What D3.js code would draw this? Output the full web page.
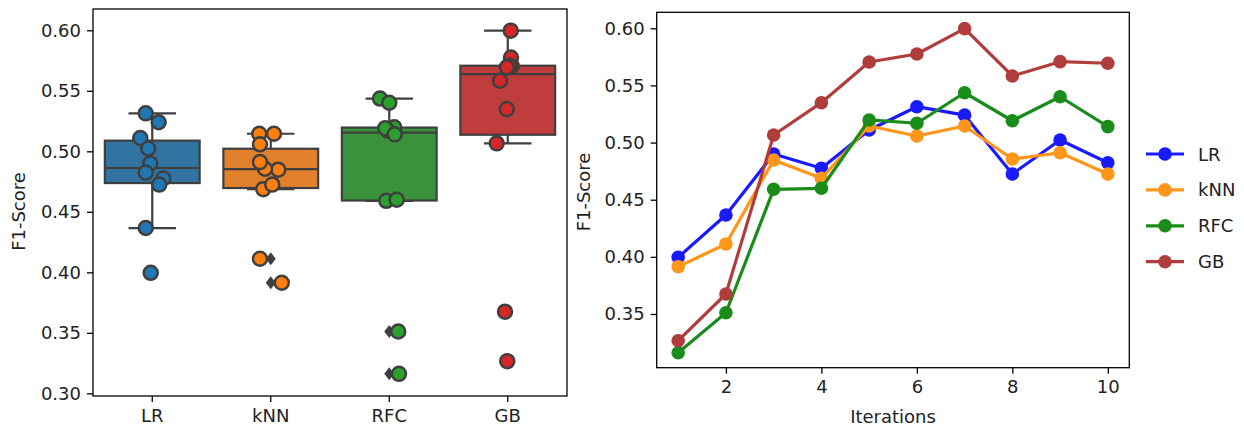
<!DOCTYPE html>
<html>
<head>
<meta charset="utf-8">
<script src="https://cdn.jsdelivr.net/npm/d3@7"></script>
<style>
  html, body { margin: 0; padding: 0; background: #fff; }
  svg { display: block; font-family: "DejaVu Sans", sans-serif; }
  text { fill: #222; }
</style>
</head>
<body>
<svg id="chart" width="1244" height="432"></svg>
<script>
// F1-scores of four classifiers over ten iterations
const models = ["LR", "kNN", "RFC", "GB"];
const iterations = [1, 2, 3, 4, 5, 6, 7, 8, 9, 10];
const lrScores  = [0.3996, 0.4366, 0.4900, 0.4775, 0.5110, 0.5314, 0.5240, 0.4725, 0.5023, 0.4824];
const knnScores = [0.3914, 0.4112, 0.4848, 0.4687, 0.5145, 0.5058, 0.5145, 0.4856, 0.4911, 0.4725];
const rfcScores = [0.3161, 0.3511, 0.4591, 0.4600, 0.5198, 0.5169, 0.5436, 0.5191, 0.5401, 0.5140];
const gbScores  = [0.3266, 0.3675, 0.5066, 0.5349, 0.5705, 0.5775, 0.5997, 0.5583, 0.5708, 0.5694];

// horizontal jitter of the strip points, in category widths
const lrJitter  = [-0.013, -0.055, -0.017, 0.093, -0.101, -0.055, 0.054, 0.059, -0.034, -0.055];
const knnJitter = [0.093, -0.091, 0.063, -0.063, -0.097, -0.091, 0.027, -0.049, -0.091, 0.013];
const rfcJitter = [0.082, 0.076, -0.025, 0.063, 0.042, -0.008, -0.078, -0.034, 0.000, 0.046];
const gbJitter  = [-0.004, -0.023, -0.093, -0.008, 0.034, 0.027, 0.025, -0.065, 0.013, -0.008];

const boxYTicks  = [0.30, 0.35, 0.40, 0.45, 0.50, 0.55, 0.60];
const lineYTicks = [0.35, 0.40, 0.45, 0.50, 0.55, 0.60];
const lineXTicks = [2, 4, 6, 8, 10];

const seriesScores = [lrScores, knnScores, rfcScores, gbScores];
const seriesJitter = [lrJitter, knnJitter, rfcJitter, gbJitter];

const boxFill   = ["#3274a1", "#e1812c", "#3a923a", "#c03d3e"];
const pointFill = ["#1f77b4", "#ff7f0e", "#2ca02c", "#d62728"];
const lineColor = ["#1a1aff", "#ff9619", "#1a8c1a", "#b13c3c"];
const edge = "#3f3f3f";
const fontSize = 18;

const svg = d3.select("#chart");

function frame(g, x0, x1, y0, y1) {
  g.append("rect")
    .attr("x", x0).attr("y", y0)
    .attr("width", x1 - x0).attr("height", y1 - y0)
    .attr("fill", "none").attr("stroke", "#000").attr("stroke-width", 1.3);
}

function styleAxis(sel) {
  sel.select(".domain").remove();
  sel.selectAll(".tick line").attr("stroke", "#000").attr("stroke-width", 1.3);
  sel.selectAll(".tick text").attr("font-size", fontSize).attr("fill", "#222")
     .attr("font-family", "DejaVu Sans, sans-serif");
}

// ---------- left panel: box plot with strip points ----------
const L = { x0: 93, x1: 567, y0: 9, y1: 396 };
const xBand = d3.scaleBand().domain(models).range([L.x0, L.x1]).padding(0);
const yBox = d3.scaleLinear().domain([0.2978, 0.6176]).range([L.y1, L.y0]);
const bw = xBand.bandwidth();
const boxW = bw * 0.8;

const left = svg.append("g");

models.forEach((m, i) => {
  const vals = seriesScores[i].slice().sort(d3.ascending);
  const q1 = d3.quantile(vals, 0.25);
  const med = d3.quantile(vals, 0.5);
  const q3 = d3.quantile(vals, 0.75);
  const iqr = q3 - q1;
  const lo = d3.min(vals.filter(v => v >= q1 - 1.5 * iqr));
  const hi = d3.max(vals.filter(v => v <= q3 + 1.5 * iqr));
  const fliers = vals.filter(v => v < lo || v > hi);
  const cx = xBand(m) + bw / 2;
  const g = left.append("g");

  // whiskers
  g.append("line").attr("x1", cx).attr("x2", cx).attr("y1", yBox(q3)).attr("y2", yBox(hi))
    .attr("stroke", edge).attr("stroke-width", 2.2);
  g.append("line").attr("x1", cx).attr("x2", cx).attr("y1", yBox(q1)).attr("y2", yBox(lo))
    .attr("stroke", edge).attr("stroke-width", 2.2);
  // caps
  [lo, hi].forEach(v => {
    g.append("line").attr("x1", cx - boxW / 4).attr("x2", cx + boxW / 4)
      .attr("y1", yBox(v)).attr("y2", yBox(v))
      .attr("stroke", edge).attr("stroke-width", 2.2);
  });
  // box
  g.append("rect")
    .attr("x", cx - boxW / 2).attr("y", yBox(q3))
    .attr("width", boxW).attr("height", yBox(q1) - yBox(q3))
    .attr("fill", boxFill[i]).attr("stroke", edge).attr("stroke-width", 2.2);
  // median
  g.append("line").attr("x1", cx - boxW / 2).attr("x2", cx + boxW / 2)
    .attr("y1", yBox(med)).attr("y2", yBox(med))
    .attr("stroke", edge).attr("stroke-width", 2.2);
  // flier markers (thin diamonds)
  fliers.forEach(v => {
    const y = yBox(v);
    g.append("path")
      .attr("d", `M${cx},${y - 6.5}L${cx + 5},${y}L${cx},${y + 6.5}L${cx - 5},${y}Z`)
      .attr("fill", edge);
  });
});

// strip points
models.forEach((m, i) => {
  const cx = xBand(m) + bw / 2;
  left.append("g").selectAll("circle")
    .data(seriesScores[i].map((v, k) => ({ v, j: seriesJitter[i][k] })))
    .join("circle")
    .attr("cx", d => cx + d.j * bw)
    .attr("cy", d => yBox(d.v))
    .attr("r", 7)
    .attr("fill", pointFill[i])
    .attr("stroke", edge)
    .attr("stroke-width", 2.5);
});

left.append("g").attr("transform", `translate(${L.x0},0)`)
  .call(d3.axisLeft(yBox).tickValues(boxYTicks).tickFormat(d3.format(".2f")).tickSize(6).tickPadding(6))
  .call(styleAxis);
left.append("g").attr("transform", `translate(0,${L.y1})`)
  .call(d3.axisBottom(xBand).tickSize(6).tickPadding(7))
  .call(styleAxis);
frame(left, L.x0, L.x1, L.y0, L.y1);

left.append("text")
  .attr("transform", `translate(25,${(L.y0 + L.y1) / 2 + 9}) rotate(-90)`)
  .attr("text-anchor", "middle").attr("font-size", fontSize)
  .text("F1-Score");

// ---------- right panel: scores per iteration ----------
const R = { x0: 656.7, x1: 1129.3, y0: 12.3, y1: 367.7 };
const xIter = d3.scaleLinear().domain([0.55, 10.45]).range([R.x0, R.x1]);
const yLine = d3.scaleLinear().domain([0.303, 0.614]).range([R.y1, R.y0]);

const right = svg.append("g");
const lineGen = d3.line().x((d, k) => xIter(iterations[k])).y(d => yLine(d));

models.forEach((m, i) => {
  const g = right.append("g");
  g.append("path").attr("d", lineGen(seriesScores[i]))
    .attr("fill", "none").attr("stroke", lineColor[i]).attr("stroke-width", 3.2)
    .attr("stroke-linejoin", "round");
  g.selectAll("circle").data(seriesScores[i]).join("circle")
    .attr("cx", (d, k) => xIter(iterations[k]))
    .attr("cy", d => yLine(d))
    .attr("r", 6.8)
    .attr("fill", lineColor[i]);
});

right.append("g").attr("transform", `translate(${R.x0},0)`)
  .call(d3.axisLeft(yLine).tickValues(lineYTicks).tickFormat(d3.format(".2f")).tickSize(6).tickPadding(6))
  .call(styleAxis);
right.append("g").attr("transform", `translate(0,${R.y1})`)
  .call(d3.axisBottom(xIter).tickValues(lineXTicks).tickFormat(d3.format("d")).tickSize(6).tickPadding(7))
  .call(styleAxis);
frame(right, R.x0, R.x1, R.y0, R.y1);

right.append("text")
  .attr("transform", `translate(590,${(R.y0 + R.y1) / 2 + 2}) rotate(-90)`)
  .attr("text-anchor", "middle").attr("font-size", fontSize)
  .text("F1-Score");
right.append("text")
  .attr("x", (R.x0 + R.x1) / 2).attr("y", 423)
  .attr("text-anchor", "middle").attr("font-size", fontSize)
  .text("Iterations");

// legend
const legend = right.append("g");
models.forEach((m, i) => {
  const y = 154 + i * 35.9;
  legend.append("line").attr("x1", 1146).attr("x2", 1184).attr("y1", y).attr("y2", y)
    .attr("stroke", lineColor[i]).attr("stroke-width", 3.2);
  legend.append("circle").attr("cx", 1165).attr("cy", y).attr("r", 6.8).attr("fill", lineColor[i]);
  legend.append("text").attr("x", 1198).attr("y", y + 6.5)
    .attr("font-size", fontSize).text(m);
});
</script>
</body>
</html>
